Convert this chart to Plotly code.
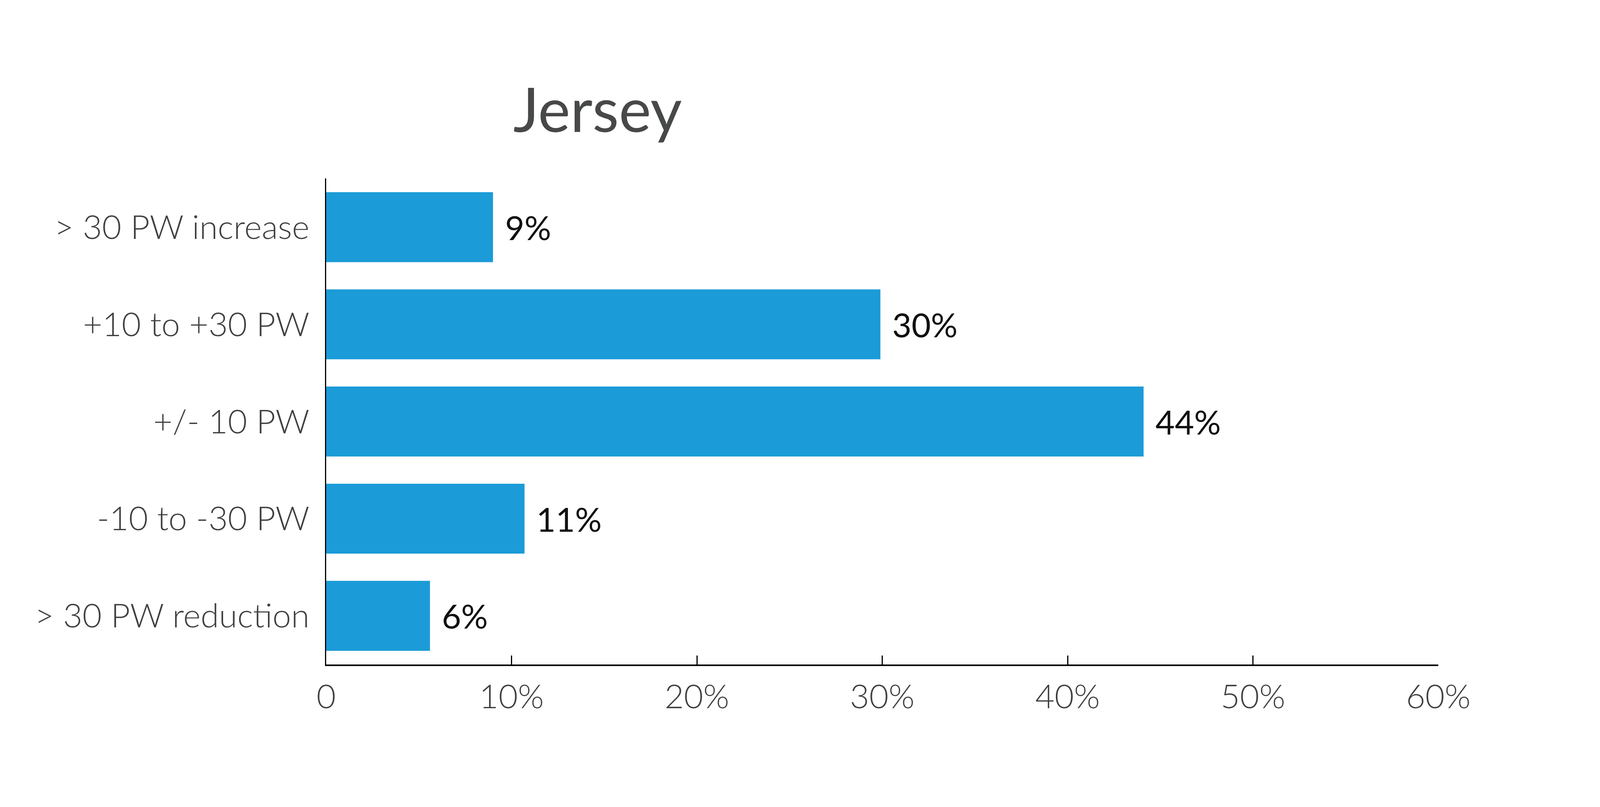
import plotly.graph_objects as go

# categories from top to bottom as in the picture
categories = ["> 30 PW increase", "+10 to +30 PW", "+/- 10 PW", "-10 to -30 PW", "> 30 PW reduction"]
shares = [9.0, 29.9, 44.1, 10.7, 5.6]
share_labels = ["9%", "30%", "44%", "11%", "6%"]

tick_vals = [0, 10, 20, 30, 40, 50, 60]
tick_text = ["0", "10%", "20%", "30%", "40%", "50%", "60%"]

# the page is shown with some zoom, so sizes are screenshot px times k
k = 1 / 1.124

fig = go.Figure(data=[go.Bar(
    y=categories,
    x=shares,
    orientation='h',
    marker=dict(color='#1B9BD7', line=dict(width=0)),
    hoverinfo='x+y',
)])

# value labels to the right of each bar
for cat, val, lab in zip(categories, shares, share_labels):
    fig.add_annotation(
        x=val, y=cat, text=lab,
        xanchor='left', yanchor='middle',
        xshift=32 * k, showarrow=False,
        font=dict(family="Lato", size=96 * k, color='#111111'),
    )

# no fixed width/height: let the figure fill the window, place axes by fractions
fig.update_layout(
    margin=dict(l=0, r=0, t=0, b=0),
    paper_bgcolor='white',
    plot_bgcolor='white',
    bargap=0.28,
    showlegend=False,
    title={
        'text': "Jersey",
        'x': 0.373,
        'y': 0.866,
        'xref': 'container',
        'yref': 'container',
        'xanchor': 'center',
        'yanchor': 'middle',
        'font': dict(family="Lato", size=176 * k, color='#474948')},
    font=dict(family="Lato", size=96 * k, color='#404040'),
)

fig.update_xaxes(
    domain=[929 / 4583, 4127 / 4583],
    automargin=False,
    range=[0, 60],
    tickvals=tick_vals,
    ticktext=tick_text,
    showgrid=False,
    zeroline=False,
    showline=True,
    linecolor='black',
    linewidth=4 * k,
    ticks='inside',
    ticklen=26 * k,
    tickwidth=3 * k,
    tickcolor='black',
    ticklabelstandoff=6,
    tickfont=dict(family="Lato", size=96 * k, color='#404040', weight=300),
)

fig.update_yaxes(
    domain=[360 / 2067, 1 - 453 / 2067],
    automargin=False,
    categoryorder='array',
    categoryarray=categories[::-1],
    showgrid=False,
    zeroline=False,
    showline=True,
    linecolor='black',
    linewidth=3 * k,
    ticks='',
    ticklabelstandoff=round(26 * k),
    tickfont=dict(family="Lato", size=96 * k, color='#404040', weight=300),
)

fig.write_html("out.html")
